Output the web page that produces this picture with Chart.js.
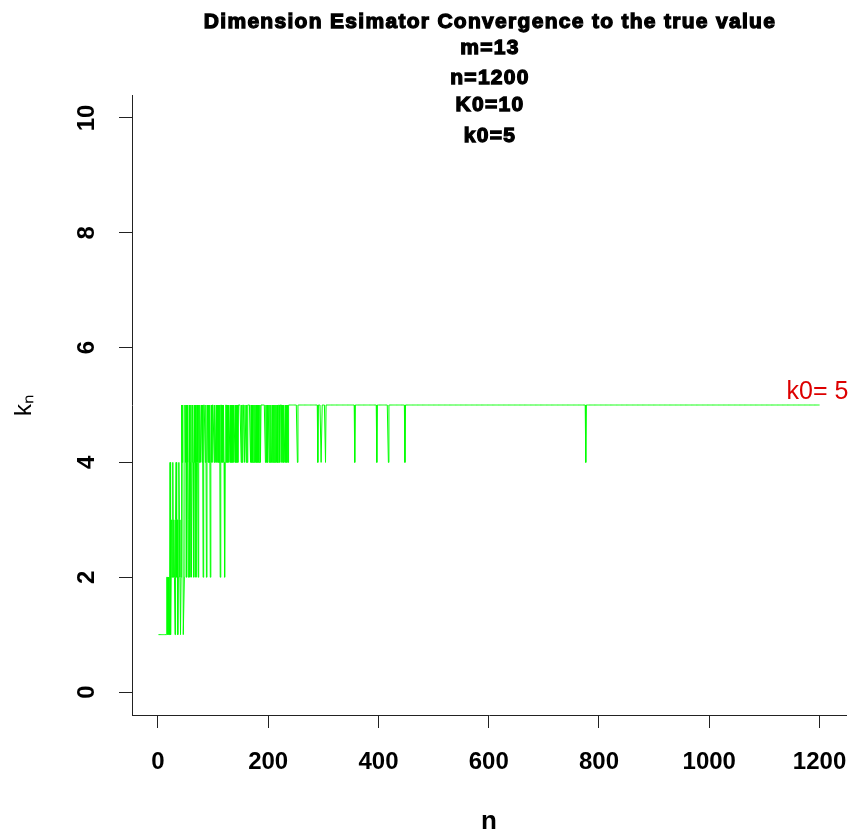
<!DOCTYPE html>
<html>
<head>
<meta charset="utf-8">
<title>Dimension Esimator Convergence</title>
<script src="https://cdn.jsdelivr.net/npm/chart.js@4.4.1/dist/chart.umd.min.js"></script>
<style>
  html, body { margin: 0; padding: 0; background: #fff; }
</style>
</head>
<body>
<canvas id="chartDim" width="849" height="837"></canvas>
<script>
const titleLines = ['Dimension Esimator Convergence to the true value', 'm=13', 'n=1200', 'K0=10', 'k0=5'];
const xTicks = [0, 200, 400, 600, 800, 1000, 1200];
const yTicks = [0, 2, 4, 6, 8, 10];

// k_n for n = 1..240, read column by column off the dense part of the plot
const headK = [
    1, 1, 1, 1, 1, 1, 1, 1, 1, 1,
    1, 1, 1, 1, 1, 2, 2, 1, 2, 1,
    1, 4, 1, 2, 3, 2, 4, 2, 3, 2,
    1, 3, 4, 2, 3, 1, 2, 4, 3, 2,
    1, 2, 5, 4, 5, 1, 1, 2, 5, 4,
    5, 2, 5, 4, 2, 3, 5, 2, 4, 5,
    2, 4, 5, 4, 2, 5, 4, 5, 2, 4,
    5, 4, 2, 5, 4, 5, 4, 4, 5, 4,
    5, 2, 5, 5, 5, 4, 5, 2, 4, 5,
    4, 5, 4, 5, 2, 4, 5, 4, 5, 5,
    5, 4, 5, 4, 4, 5, 4, 5, 4, 5,
    4, 5, 2, 5, 5, 4, 5, 4, 5, 4,
    2, 4, 5, 5, 4, 5, 4, 5, 4, 4,
    5, 4, 5, 4, 5, 4, 5, 4, 4, 5,
    4, 5, 4, 5, 4, 5, 5, 5, 5, 5,
    4, 5, 4, 5, 5, 5, 4, 5, 5, 4,
    5, 4, 5, 5, 5, 5, 5, 4, 5, 4,
    5, 4, 4, 5, 4, 5, 4, 5, 4, 5,
    4, 5, 4, 4, 5, 4, 5, 5, 5, 5,
    5, 5, 5, 5, 4, 5, 4, 5, 4, 5,
    5, 4, 5, 4, 5, 4, 4, 5, 4, 5,
    4, 5, 4, 5, 4, 5, 4, 4, 5, 5,
    4, 5, 5, 5, 4, 5, 4, 5, 4, 4,
    5, 4, 5, 4, 5, 4, 5, 5, 5, 5
];
// after n = 240 the estimate sits at 5, with single drops to 4 at these n
const tailK = 5;
const dipN = [253, 290, 296, 297, 304, 357, 397, 418, 448, 776];
const dipK = 4;
const lastN = 1200;

const refLabel = 'k0= 5';
const refN = 1200;
const refK = 5;

const FONT = '"Liberation Sans", Arial, Helvetica, sans-serif';

function buildSeries() {
    const points = [];
    for (let n = 1; n <= lastN; n++) {
        let k;
        if (n <= headK.length) k = headK[n - 1];
        else if (dipN.includes(n)) k = dipK;
        else k = tailK;
        points.push({ x: n, y: k });
    }
    return points;
}

// multi-line bold title centred over the plot region, plus the red k0 note
const annotations = {
    id: 'annotations',
    afterDraw(chart) {
        const { ctx, chartArea, scales } = chart;
        const cx = (chartArea.left + chartArea.right) / 2;
        const lineY = [22, 48, 78, 105, 136];

        ctx.save();
        ctx.font = 'bold 21px ' + FONT;
        ctx.letterSpacing = '1.3px';
        ctx.textAlign = 'center';
        ctx.textBaseline = 'middle';
        ctx.fillStyle = '#000';
        ctx.strokeStyle = '#000';
        ctx.lineWidth = 1.3;
        titleLines.forEach((t, i) => {
            ctx.fillText(t, cx + 1, lineY[i]);
            ctx.strokeText(t, cx + 1, lineY[i]);
        });
        ctx.restore();

        ctx.save();
        ctx.font = '25px ' + FONT;
        ctx.textAlign = 'center';
        ctx.textBaseline = 'alphabetic';
        ctx.fillStyle = '#dd0000';
        ctx.fillText(refLabel, scales.x.getPixelForValue(refN) - 2, scales.y.getPixelForValue(refK) - 6);
        ctx.restore();
    }
};

function displayConvergenceChart(canvasId, points) {
    const ctx = document.getElementById(canvasId);
    new Chart(ctx, {
        type: 'line',
        data: {
            datasets: [{
                data: points,
                borderColor: '#00ff00',
                borderWidth: 1,
                pointRadius: 0,
                tension: 0,
                fill: false
            }]
        },
        options: {
            responsive: false,
            animation: false,
            events: [],
            layout: { padding: { top: 95, right: 3, left: 0, bottom: 0 } },
            plugins: {
                legend: { display: false },
                tooltip: { enabled: false },
                title: { display: false }
            },
            scales: {
                x: {
                    type: 'linear',
                    min: -47,
                    max: 1248,
                    afterBuildTicks: scale => { scale.ticks = xTicks.map(v => ({ value: v })); },
                    afterFit: scale => {
                        scale.height = 122;
                        scale.paddingLeft = 0;
                        scale.paddingRight = 0;
                    },
                    grid: { drawOnChartArea: false, tickLength: 13, color: '#222', lineWidth: 1 },
                    border: { display: true, color: '#222', width: 1 },
                    ticks: {
                        autoSkip: false,
                        maxRotation: 0,
                        padding: 20,
                        color: '#000',
                        font: { family: FONT, size: 24, weight: 'bold' },
                        callback: v => String(v)
                    },
                    title: {
                        display: true,
                        text: 'n',
                        color: '#000',
                        padding: { top: 0, bottom: 0 },
                        font: { family: FONT, size: 26, weight: 'bold' }
                    }
                },
                y: {
                    min: -0.4,
                    max: 10.4,
                    afterBuildTicks: scale => { scale.ticks = yTicks.map(v => ({ value: v })); },
                    afterFit: scale => {
                        scale.width = 132;
                        scale.paddingTop = 0;
                        scale.paddingBottom = 0;
                    },
                    grid: { drawOnChartArea: false, tickLength: 13, color: '#222', lineWidth: 1 },
                    border: { display: true, color: '#222', width: 1 },
                    ticks: {
                        autoSkip: false,
                        minRotation: 90,
                        maxRotation: 90,
                        crossAlign: 'center',
                        padding: 18,
                        color: '#000',
                        font: { family: FONT, size: 24, weight: 'bold' },
                        callback: v => String(v)
                    },
                    title: {
                        display: true,
                        text: 'k\u2099',
                        color: '#000',
                        padding: { top: 10, bottom: 0 },
                        font: { family: FONT, size: 24 }
                    }
                }
            }
        },
        plugins: [annotations]
    });
}

displayConvergenceChart('chartDim', buildSeries());
</script>
</body>
</html>
